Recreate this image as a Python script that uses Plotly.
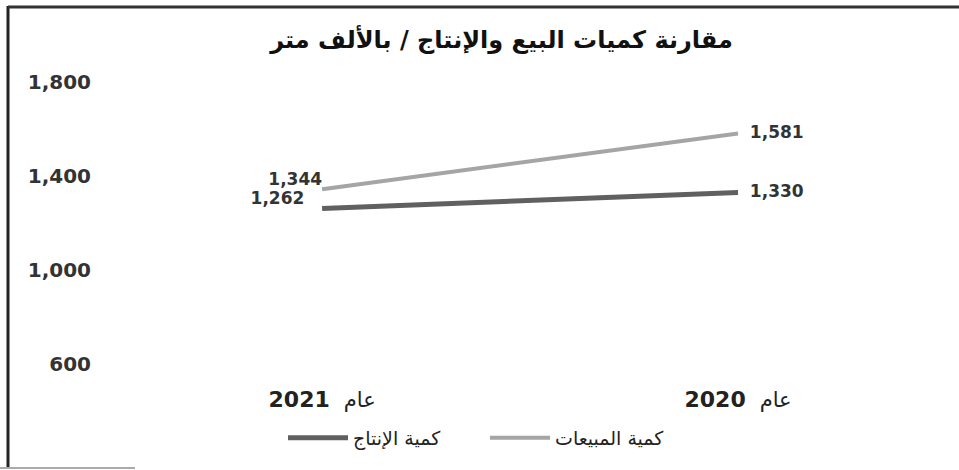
import plotly.graph_objects as go

# ---- data ----
years = ["<b>2021</b>  <span style='font-size:21px;font-weight:normal'>عام</span>",
         "<b>2020</b>  <span style='font-size:21px;font-weight:normal'>عام</span>"]
production = [1262, 1330]   # كمية الإنتاج
sales = [1344, 1581]        # كمية المبيعات
y_ticks = [600, 1000, 1400, 1800]
title_text = "مقارنة كميات البيع والإنتاج / بالألف متر"
prod_name = "كمية الإنتاج"
sales_name = "كمية المبيعات"

W, H = 959, 470
L, R, T, B = 100, 13, 82, 106
pw, ph = W - L - R, H - T - B

def px_x(p):
    return (p - L) / pw

def px_y(p):
    return (H - B - p) / ph

NB = "\u00a0"
label_font = dict(family="DejaVu Sans", size=17, color="#333333", weight="bold")

fig = go.Figure()
fig.add_trace(go.Scatter(
    x=years, y=production, name=prod_name, mode="lines+text",
    line=dict(color="#606060", width=5),
    text=[f"{production[0]:,}" + NB * 3, NB * 2 + f"{production[1]:,}"],
    textposition=["top left", "middle right"],
    textfont=label_font, cliponaxis=False,
))
fig.add_trace(go.Scatter(
    x=years, y=sales, name=sales_name, mode="lines+text",
    line=dict(color="#a5a5a5", width=4),
    text=[f"{sales[0]:,}", NB * 2 + f"{sales[1]:,}"],
    textposition=["top left", "middle right"],
    textfont=label_font, cliponaxis=False,
))

fig.update_layout(
    width=W, height=H,
    margin=dict(l=L, r=R, t=T, b=B),
    paper_bgcolor="white", plot_bgcolor="white",
    title=dict(text=f"<b>{title_text}</b>", x=0.523, xanchor="center",
               yref="container", y=1 - 40 / H, yanchor="middle",
               font=dict(family="DejaVu Sans", size=24, color="#111111")),
    xaxis=dict(type="category", range=[-0.534, 1.5], showgrid=False,
               showline=False, zeroline=False, ticks="",
               ticklabelstandoff=20,
               tickfont=dict(family="DejaVu Sans", size=22, color="#222222")),
    yaxis=dict(range=[600, 1800], tickvals=y_ticks, tickformat=",",
               showgrid=False, showline=False, zeroline=False, ticks="",
               ticklabelstandoff=8,
               tickfont=dict(family="DejaVu Sans", size=20, color="#333333",
                             weight="bold")),
    legend=dict(orientation="h", x=px_x(283), xanchor="left", y=px_y(438),
                yanchor="middle", traceorder="normal",
                entrywidth=127, entrywidthmode="pixels",
                font=dict(family="DejaVu Sans", size=19, color="#222222"),
                itemwidth=60),
    showlegend=True,
)

# scanned frame
fig.add_shape(type="line", xref="paper", yref="paper",
              x0=px_x(8), x1=px_x(8), y0=px_y(6), y1=px_y(468),
              line=dict(color="#222222", width=3))
fig.add_shape(type="line", xref="paper", yref="paper",
              x0=px_x(8), x1=px_x(959), y0=px_y(7), y1=px_y(7),
              line=dict(color="#333333", width=3))
fig.add_shape(type="line", xref="paper", yref="paper",
              x0=px_x(0), x1=px_x(135), y0=px_y(468), y1=px_y(468),
              line=dict(color="#aaaaaa", width=2))

fig.write_html("out.html", config={"displayModeBar": False},
               post_script="document.body.style.margin='0px';")
